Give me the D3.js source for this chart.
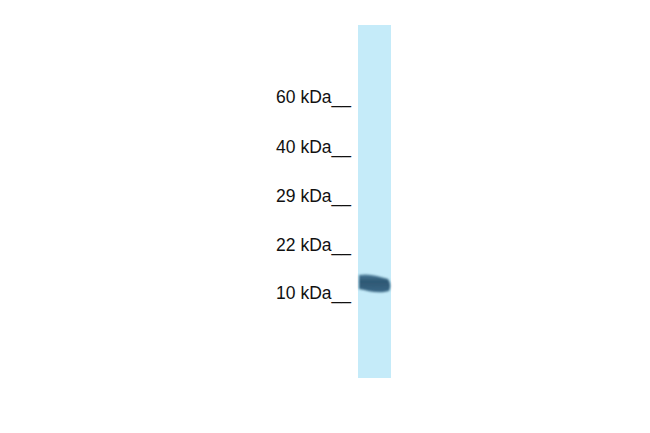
<!DOCTYPE html>
<html>
<head>
<meta charset="utf-8">
<script src="https://cdn.jsdelivr.net/npm/d3@7"></script>
<style>
  body { margin: 0; background: #ffffff; }
  svg { display: block; }
</style>
</head>
<body>
<div id="blot"></div>
<script>
const FRAME_WIDTH = 650;
const FRAME_HEIGHT = 433;

// marker ladder (kDa) and their labels
const MARKERS = [60, 40, 29, 22, 10];
const MARKER_LABELS = ["60 kDa__", "40 kDa__", "29 kDa__", "22 kDa__", "10 kDa__"];

// lanes and bands seen on the blot
const LANES = ["lane1"];
const BAND_LANES = ["lane1"];
const BAND_KDA = [13];

// lane extent
const LANE_LEFT = 358;
const LANE_RIGHT = 391;
const LANE_TOP = 25;
const LANE_BOTTOM = 378;

//frame for the blot
const FRAME = d3.select("#blot")
  .append("svg")
    .attr("width", FRAME_WIDTH)
    .attr("height", FRAME_HEIGHT);

FRAME.append("rect")
  .attr("width", FRAME_WIDTH)
  .attr("height", FRAME_HEIGHT)
  .attr("fill", "#ffffff");

//molecular weight scale, piecewise log through the ladder
const Y_SCALE = d3.scaleLog()
  .domain(MARKERS)
  .range([104, 154, 203, 252, 300]);

//lane scale
const X_SCALE = d3.scaleBand()
  .domain(LANES)
  .range([LANE_LEFT, LANE_RIGHT]);

const defs = FRAME.append("defs");
const blur = defs.append("filter")
  .attr("id", "soft")
  .attr("x", "-20%").attr("y", "-40%")
  .attr("width", "140%").attr("height", "180%");
blur.append("feGaussianBlur").attr("stdDeviation", 1.2);

const bandGrad = defs.append("linearGradient")
  .attr("id", "bandGrad")
  .attr("x1", 0).attr("x2", 0).attr("y1", 0).attr("y2", 1);
bandGrad.append("stop").attr("offset", "0%").attr("stop-color", "#4a7a98");
bandGrad.append("stop").attr("offset", "40%").attr("stop-color", "#2e5874");
bandGrad.append("stop").attr("offset", "100%").attr("stop-color", "#3a6886");

//lanes
FRAME.selectAll(".lane")
  .data(LANES)
  .enter()
  .append("rect")
    .attr("class", "lane")
    .attr("x", (d) => X_SCALE(d))
    .attr("y", LANE_TOP)
    .attr("width", X_SCALE.bandwidth())
    .attr("height", LANE_BOTTOM - LANE_TOP)
    .attr("fill", "#c5ebf9");

//bands, slightly tilted blob
FRAME.selectAll(".band")
  .data(BAND_KDA)
  .enter()
  .append("path")
    .attr("class", "band")
    .attr("fill", "url(#bandGrad)")
    .attr("filter", "url(#soft)")
    .attr("d", (d, i) => {
      const x0 = X_SCALE(BAND_LANES[i]) + 1;
      const x1 = x0 + X_SCALE.bandwidth() - 1;
      const yc = Y_SCALE(d);
      const w = x1 - x0;
      return "M" + x0 + "," + (yc - 9) +
        " C" + (x0 + w * 0.3) + "," + (yc - 11) + " " + (x0 + w * 0.6) + "," + (yc - 8) + " " + (x1 - 3) + "," + (yc - 5) +
        " Q" + (x1 + 1) + "," + (yc + 1) + " " + (x1 - 2) + "," + (yc + 7) +
        " C" + (x0 + w * 0.6) + "," + (yc + 10) + " " + (x0 + w * 0.3) + "," + (yc + 7) + " " + x0 + "," + (yc + 5) +
        " Z";
    });

//marker labels
FRAME.selectAll(".marker")
  .data(MARKERS)
  .enter()
  .append("text")
    .attr("class", "marker")
    .attr("x", 351)
    .attr("y", (d) => Y_SCALE(d) - 1)
    .attr("text-anchor", "end")
    .attr("font-family", "Liberation Sans, Arial, sans-serif")
    .attr("font-size", "17.5px")
    .attr("fill", "#111111")
    .text((d, i) => MARKER_LABELS[i]);
</script>
</body>
</html>
